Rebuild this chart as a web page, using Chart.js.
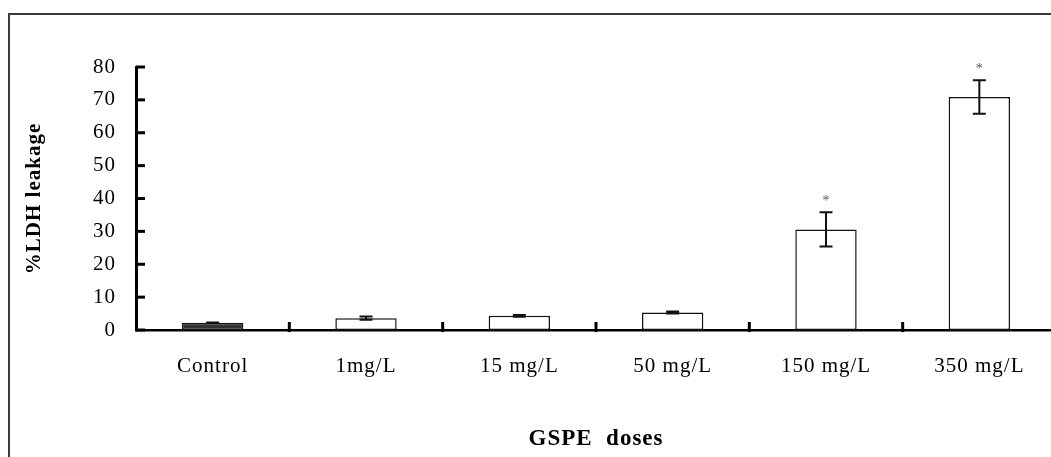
<!DOCTYPE html>
<html>
<head>
<meta charset="utf-8">
<script src="https://cdn.jsdelivr.net/npm/chart.js@4.4.1/dist/chart.umd.min.js"></script>
<style>
  html, body { margin: 0; padding: 0; background: #fff; overflow: hidden; }
  body { width: 1051px; height: 457px; position: relative; }
  #frame {
    position: absolute; left: 8px; top: 13px;
    width: 2000px; height: 1000px;
    border: 2px solid #3a3a3a;
  }
  #chart { position: absolute; left: 0; top: 0; }
</style>
</head>
<body>
<div id="frame"></div>
<canvas id="chart" width="1080" height="457"></canvas>
<script>
const doses = ['Control', '1mg/L', '15 mg/L', '50 mg/L', '150 mg/L', '350 mg/L'];
const ldhLeakage = [2.2, 3.6, 4.3, 5.3, 30.6, 70.9];
const ldhError = [0.1, 0.5, 0.3, 0.3, 5.2, 5.1];
const significance = ['', '', '', '', '*', '*'];
const barFills = ['#333333', '#ffffff', '#ffffff', '#ffffff', '#ffffff', '#ffffff'];
const yTicks = [0, 10, 20, 30, 40, 50, 60, 70, 80];

const serif = '"Liberation Serif", "Times New Roman", serif';

// letter spacing for all text, like the original figure
const spacingPlugin = {
  id: 'spacing',
  beforeDraw: (chart) => {
    chart.ctx.letterSpacing = '1px';
  },
};

// inward tick marks on both axes
const innerTicks = {
  id: 'innerTicks',
  afterDraw: (chart) => {
    const ctx = chart.ctx;
    const x = chart.scales.x;
    const y = chart.scales.y;
    const area = chart.chartArea;
    ctx.save();
    ctx.strokeStyle = '#000';
    ctx.lineWidth = 3;
    yTicks.forEach((v) => {
      const py = y.getPixelForValue(v);
      ctx.beginPath();
      ctx.moveTo(area.left, py);
      ctx.lineTo(area.left + 9, py);
      ctx.stroke();
    });
    for (let i = 1; i < doses.length; i++) {
      const px = (x.getPixelForTick(i - 1) + x.getPixelForTick(i)) / 2;
      ctx.beginPath();
      ctx.moveTo(px, area.bottom - 8);
      ctx.lineTo(px, area.bottom + 2);
      ctx.stroke();
    }
    ctx.restore();
  },
};

// error bars and significance marks
const errorBars = {
  id: 'errorBars',
  afterDatasetsDraw: (chart) => {
    const ctx = chart.ctx;
    const x = chart.scales.x;
    const y = chart.scales.y;
    ctx.save();
    ctx.strokeStyle = '#111';
    ctx.lineWidth = 2;
    ldhLeakage.forEach((v, i) => {
      const px = x.getPixelForTick(i);
      const top = y.getPixelForValue(v + ldhError[i]);
      const bottom = y.getPixelForValue(v - ldhError[i]);
      ctx.beginPath();
      ctx.moveTo(px, top);
      ctx.lineTo(px, bottom);
      ctx.moveTo(px - 6.5, top);
      ctx.lineTo(px + 6.5, top);
      ctx.moveTo(px - 6.5, bottom);
      ctx.lineTo(px + 6.5, bottom);
      ctx.stroke();
      if (significance[i]) {
        ctx.fillStyle = '#555';
        ctx.font = '14px ' + serif;
        ctx.letterSpacing = '0px';
        ctx.textAlign = 'center';
        ctx.textBaseline = 'alphabetic';
        ctx.fillText(significance[i], px, top - 14 + 7);
      }
    });
    ctx.restore();
  },
};

new Chart(document.getElementById('chart'), {
  type: 'bar',
  plugins: [spacingPlugin, innerTicks, errorBars],
  data: {
    labels: doses,
    datasets: [
      {
        label: '%LDH leakage',
        data: ldhLeakage,
        backgroundColor: barFills,
        borderColor: '#111',
        borderWidth: 1.5,
        borderSkipped: false,
        barPercentage: 0.4,
        categoryPercentage: 1,
      },
    ],
  },
  options: {
    responsive: false,
    animation: false,
    layout: {
      padding: { left: 0, top: 67, right: 24, bottom: 0 },
    },
    plugins: {
      legend: { display: false },
      tooltip: { enabled: false },
    },
    scales: {
      x: {
        offset: true,
        grid: { display: false, drawTicks: false },
        border: { display: true, color: '#000', width: 2.5 },
        ticks: {
          color: '#000',
          padding: 24,
          font: { family: serif, size: 21 },
          maxRotation: 0,
        },
        title: {
          display: true,
          text: 'GSPE  doses',
          color: '#000',
          font: { family: serif, size: 23, weight: 'bold' },
          padding: { top: 0, bottom: 4 },
        },
        afterFit: (scale) => {
          scale.height = 127;
        },
      },
      y: {
        min: 0,
        max: 80,
        grid: { display: false, drawTicks: false },
        border: { display: true, color: '#000', width: 3 },
        ticks: {
          stepSize: 10,
          color: '#000',
          padding: 20,
          font: { family: serif, size: 21 },
        },
        title: {
          display: true,
          text: '%LDH leakage',
          color: '#000',
          font: { family: serif, size: 21, weight: 'bold' },
          padding: { top: 22, bottom: 0 },
        },
        afterFit: (scale) => {
          scale.width = 136;
        },
      },
    },
  },
});
</script>
</body>
</html>
